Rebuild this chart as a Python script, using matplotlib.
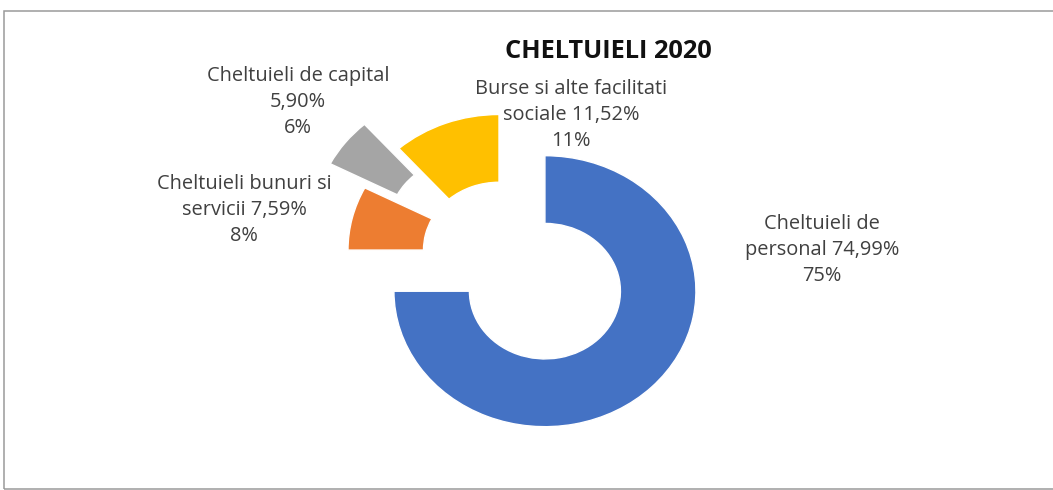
import matplotlib
matplotlib.use("Agg")
import matplotlib.pyplot as plt
from matplotlib.patches import Rectangle


WIDTH_PX, HEIGHT_PX = 1053, 490
DPI = 100

TITLE = "CHELTUIELI 2020"
CATEGORIES = [
    "Cheltuieli de\npersonal",
    "Cheltuieli bunuri si\nservicii",
    "Cheltuieli de capital\n",
    "Burse si alte facilitati\nsociale",
]
SHARES = [74.99, 7.59, 5.90, 11.52]
SHOWN_PCT = [75, 8, 6, 11]
COLORS = ["#4472C4", "#ED7D31", "#A5A5A5", "#FFC000"]
EXPLODE = [0.43, 0.0, 0.29, 0.0]

# label centres in pixels (x, y of the middle line)
LABEL_POS = [(822, 250), (244, 210), (298, 102), (571, 115)]

# pie centre and radii in pixels (the original chart is slightly squashed)
CENTER_PX = (499, 250)
RX_PX, RY_PX = 151, 135.5

FONT = "Open Sans"
TEXT_COLOR = "#404040"


def build_label(category, share, shown):
    value = f"{share:.2f}%".replace(".", ",")
    sep = "" if category.endswith("\n") else " "
    return f"{category}{sep}{value}\n{shown}%"


def main():
    fig = plt.figure(figsize=(WIDTH_PX / DPI, HEIGHT_PX / DPI), dpi=DPI)
    ax = fig.add_axes((0, 0, 1, 1))

    ax.pie(
        SHARES,
        colors=COLORS,
        explode=EXPLODE,
        startangle=90,
        counterclock=False,
        radius=1.0,
        wedgeprops={"width": 0.5, "edgecolor": "white", "linewidth": 1.0},
    )
    ax.set_aspect("auto")
    cx, cy = CENTER_PX
    ax.set_xlim(-cx / RX_PX, (WIDTH_PX - cx) / RX_PX)
    ax.set_ylim((cy - HEIGHT_PX) / RY_PX, cy / RY_PX)
    ax.axis("off")

    for category, share, shown, (px, py) in zip(
        CATEGORIES, SHARES, SHOWN_PCT, LABEL_POS
    ):
        fig.text(
            px / WIDTH_PX,
            1 - py / HEIGHT_PX,
            build_label(category, share, shown),
            ha="center",
            va="center",
            ma="center",
            fontsize=14.4,
            family=FONT,
            color=TEXT_COLOR,
            linespacing=1.38,
        )

    fig.text(
        608 / WIDTH_PX,
        1 - 51 / HEIGHT_PX,
        TITLE,
        ha="center",
        va="center",
        fontsize=18.3,
        fontweight="bold",
        family=FONT,
        color="#111111",
    )

    # chart area frame
    fig.patches.append(
        Rectangle(
            (3.5 / WIDTH_PX, 1.5 / HEIGHT_PX),
            1.2,
            (488 - 10.5) / HEIGHT_PX,
            transform=fig.transFigure,
            fill=False,
            edgecolor="#9a9a9a",
            linewidth=1.1,
        )
    )

    fig.savefig("out.png", dpi=DPI)
    plt.close(fig)


if __name__ == "__main__":
    main()
